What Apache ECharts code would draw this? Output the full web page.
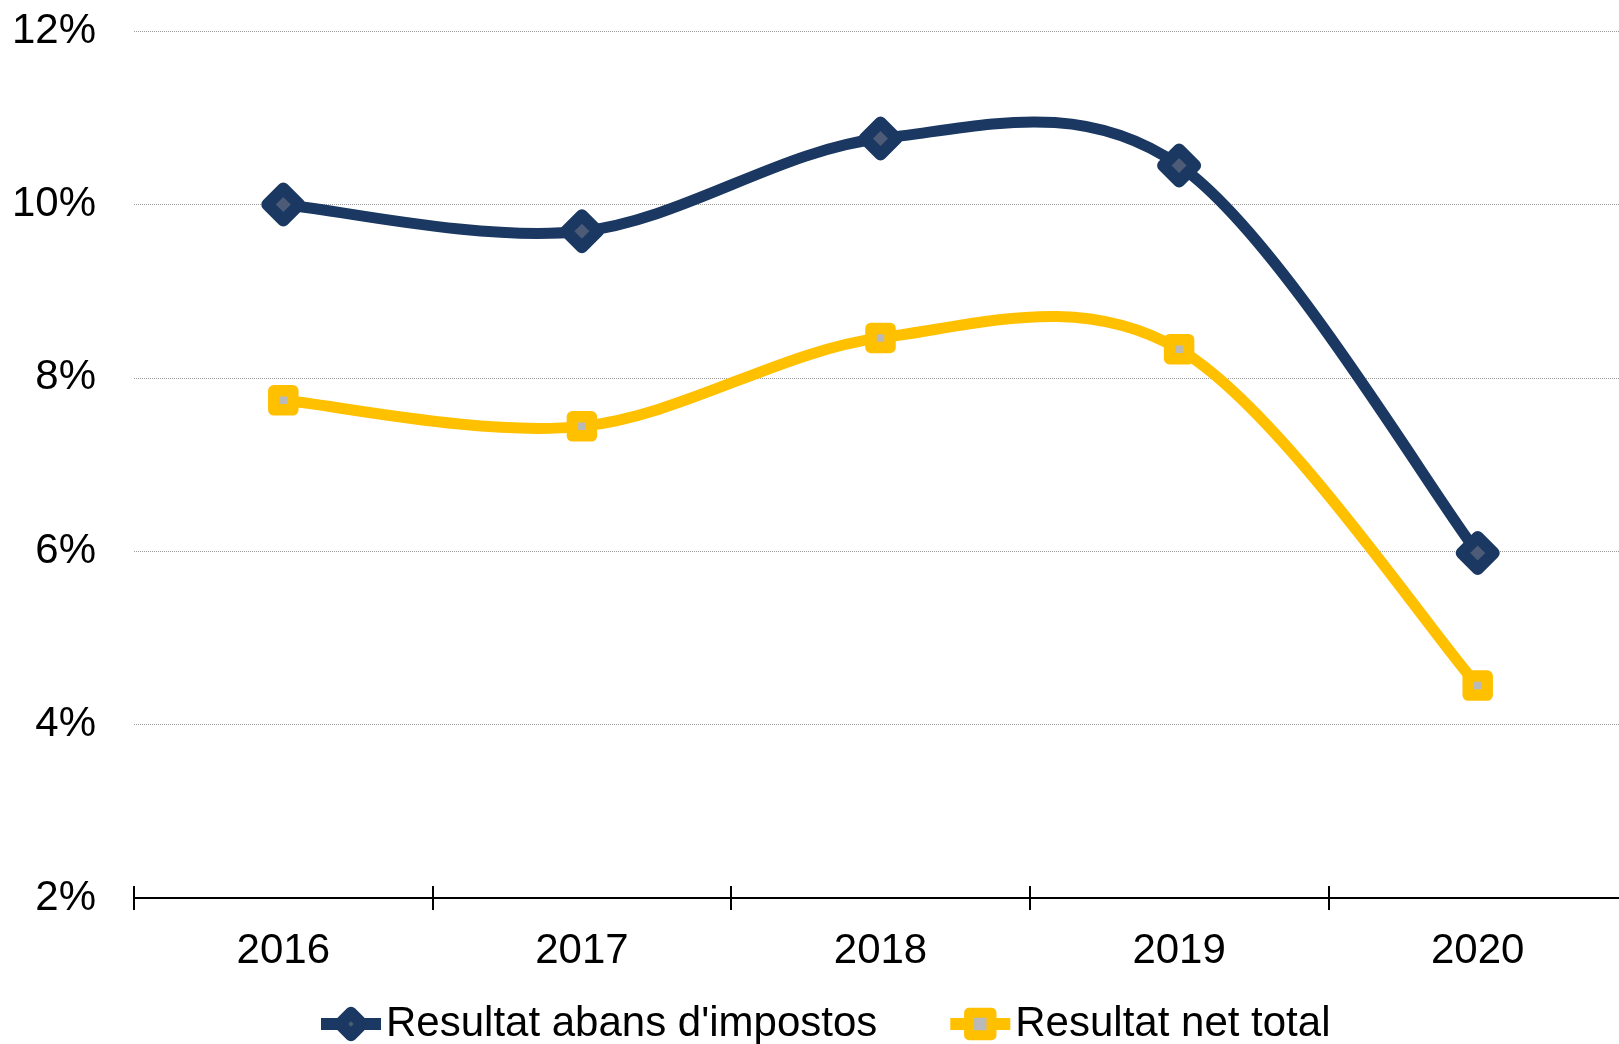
<!DOCTYPE html>
<html>
<head>
<meta charset="utf-8">
<script src="https://cdn.jsdelivr.net/npm/echarts@6/dist/echarts.min.js"></script>
<style>
html,body{margin:0;padding:0;background:#fff;}
#chart{width:1619px;height:1044px;}
</style>
</head>
<body>
<div id="chart"></div>
<script>
var categories = ['2016', '2017', '2018', '2019', '2020'];
var seriesNames = ["Resultat abans d'impostos", 'Resultat net total'];
var abansImpostos = [10.0, 9.69, 10.76, 10.45, 5.98];
var netTotal = [7.74, 7.44, 8.46, 8.33, 4.45];
var yMin = 2, yMax = 12, yInterval = 2;

var NAVY = '#1a3861', YELLOW = '#FFC000';
var FONT = "'Liberation Sans', Arial, sans-serif";

// Smooth curve (Excel-style Catmull-Rom Bezier) drawn through the library's coordinate system
function curveSeries(id, values, color, z) {
  return {
    type: 'custom',
    id: id,
    name: id,
    xAxisIndex: 0,
    data: values.map(function (v, i) { return [i, v]; }),
    encode: {x: 0, y: 1},
    z: z,
    silent: true,
    clip: false,
    renderItem: function (params, api) {
      if (params.dataIndex !== 0) return null;
      var p = values.map(function (v, i) { return api.coord([i, v]); });
      var d = 'M' + p[0][0] + ' ' + p[0][1];
      for (var i = 0; i < p.length - 1; i++) {
        var p0 = p[i - 1] || p[i], p1 = p[i], p2 = p[i + 1], p3 = p[i + 2] || p[i + 1];
        var c1x = p1[0] + (p2[0] - p0[0]) / 6, c1y = p1[1] + (p2[1] - p0[1]) / 6;
        var c2x = p2[0] - (p3[0] - p1[0]) / 6, c2y = p2[1] - (p3[1] - p1[1]) / 6;
        d += ' C' + c1x + ' ' + c1y + ' ' + c2x + ' ' + c2y + ' ' + p2[0] + ' ' + p2[1];
      }
      return {
        type: 'path',
        shape: {pathData: d},
        style: {fill: null, stroke: color, lineWidth: 11, lineJoin: 'round', lineCap: 'round'}
      };
    }
  };
}

var chart = echarts.init(document.getElementById('chart'), null, {renderer: 'canvas'});
chart.setOption({
  animation: false,
  backgroundColor: '#fff',
  textStyle: {fontFamily: FONT},
  grid: {left: 134, width: 1493, top: 31, bottom: 146, containLabel: false, outerBoundsMode: 'none'},
  legend: {
    bottom: -1,
    left: 315,
    padding: 0,
    itemWidth: 60,
    itemHeight: 28,
    itemGap: 67,
    textStyle: {fontFamily: FONT, fontSize: 42, color: '#000'},
    data: [{
      name: seriesNames[0],
      lineStyle: {color: NAVY, width: 12, opacity: 1, cap: 'butt'},
      itemStyle: {color: '#4d5b77', borderColor: NAVY, borderWidth: 12, borderJoin: 'round'}
    }, {
      name: seriesNames[1],
      lineStyle: {color: YELLOW, width: 12, opacity: 1, cap: 'butt'},
      itemStyle: {color: '#b9b9b9', borderColor: YELLOW, borderWidth: 10, borderJoin: 'round'}
    }]
  },
  xAxis: [{
    type: 'category',
    data: categories,
    boundaryGap: true,
    position: 'bottom',
    axisLine: {show: true, lineStyle: {color: '#000', width: 2}},
    axisTick: {show: true, length: 12, lineStyle: {color: '#000', width: 2}},
    axisLabel: {fontFamily: FONT, fontSize: 42, color: '#000', margin: 32},
    splitLine: {show: false}
  }, {
    type: 'category',
    data: categories,
    boundaryGap: true,
    position: 'bottom',
    axisLine: {show: false},
    axisTick: {show: true, inside: true, length: 12, lineStyle: {color: '#000', width: 2}},
    axisLabel: {show: false},
    splitLine: {show: false}
  }],
  yAxis: {
    type: 'value',
    min: yMin, max: yMax, interval: yInterval,
    axisLine: {show: false},
    axisTick: {show: false},
    axisLabel: {fontFamily: FONT, fontSize: 42, color: '#000', margin: 38, formatter: '{value}%'},
    splitLine: {show: true, lineStyle: {color: '#9a9a9a', type: 'dotted', width: 1}}
  },
  series: [
    curveSeries('curveNet', netTotal, YELLOW, 2),
    curveSeries('curveAbans', abansImpostos, NAVY, 3),
  {
    name: seriesNames[1],
    type: 'line',
    xAxisIndex: 0,
    data: netTotal,
    symbol: 'rect',
    symbolSize: 19,
    lineStyle: {color: YELLOW, width: 11, opacity: 0},
    itemStyle: {color: '#b9b9b9', borderColor: YELLOW, borderWidth: 11.5, borderJoin: 'round'},
    z: 4
  }, {
    name: seriesNames[0],
    type: 'line',
    xAxisIndex: 0,
    data: abansImpostos,
    symbol: 'diamond',
    symbolSize: 32,
    lineStyle: {color: NAVY, width: 11, opacity: 0},
    itemStyle: {color: '#4d5b77', borderColor: NAVY, borderWidth: 12, borderJoin: 'round'},
    z: 5
  }]
});
</script>
</body>
</html>
